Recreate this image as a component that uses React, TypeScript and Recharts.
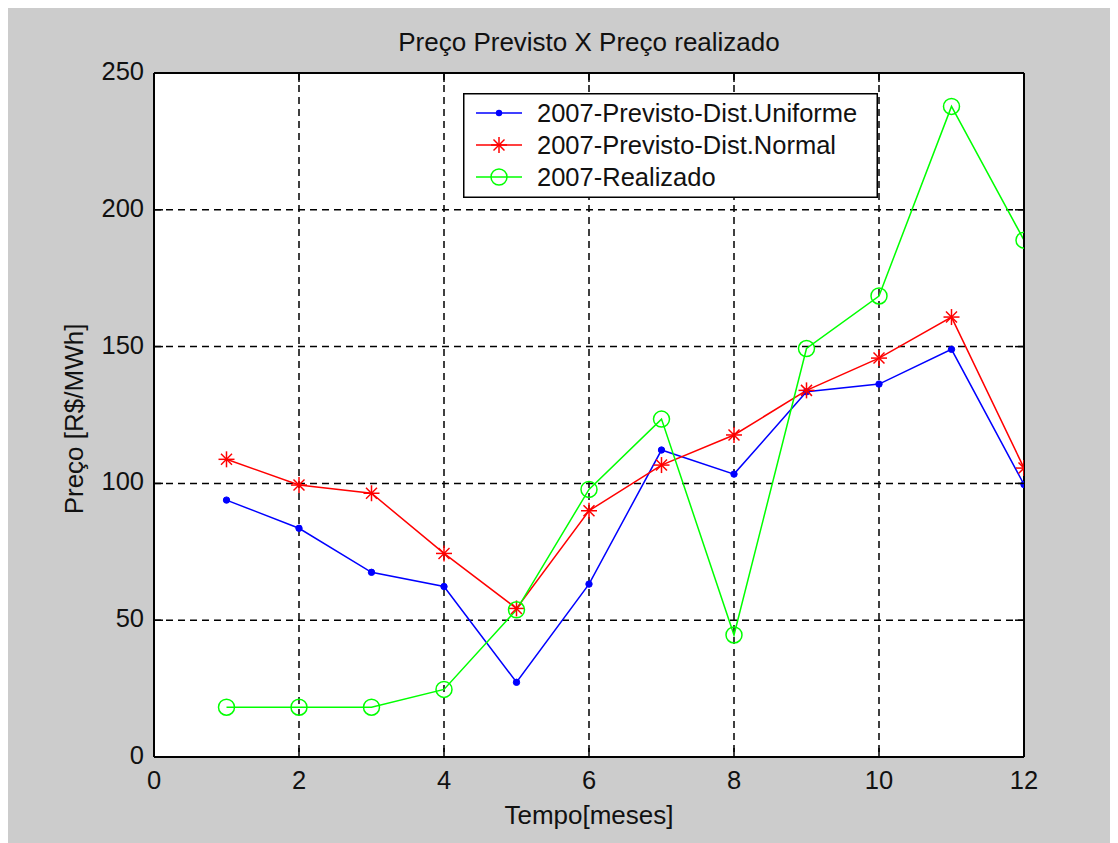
import React from 'react';
import { LineChart, Line, XAxis, YAxis, CartesianGrid, Legend } from 'recharts';

const months = [1, 2, 3, 4, 5, 6, 7, 8, 9, 10, 11, 12];
const uniforme = [93.9, 83.6, 67.5, 62.3, 27.3, 63.2, 112.2, 103.4, 133.5, 136.3, 149.0, 99.6];
const normal = [108.8, 99.4, 96.4, 74.4, 54.3, 90.0, 106.7, 117.7, 134.0, 145.8, 160.8, 105.6];
const realizado = [18.2, 18.2, 18.2, 24.7, 53.8, 97.8, 123.5, 44.6, 149.3, 168.5, 237.8, 188.9];
const xTicks = [0, 2, 4, 6, 8, 10, 12];
const yTicks = [0, 50, 100, 150, 200, 250];
const seriesNames = ['2007-Previsto-Dist.Uniforme', '2007-Previsto-Dist.Normal', '2007-Realizado'];
const titleText = 'Preço Previsto X Preço realizado';
const xLabelText = 'Tempo[meses]';
const yLabelText = 'Preço [R$/MWh]';

const data = months.map((m, i) => ({ m, u: uniforme[i], n: normal[i], r: realizado[i] }));

const FONT = '"Liberation Sans", Arial, Helvetica, sans-serif';
const FS = 26;
const FS_TICK = 25.5;
const FS_LEG = 25.5;
const TICK = 9;
const BLUE = '#0000ff';
const RED = '#ff0000';
const GREEN = '#00ff00';

const BottomTick = (p: any) => (
  <g>
    <line x1={p.x} y1={p.y} x2={p.x} y2={p.y - TICK} stroke="#000" strokeWidth={1.5} />
    <text x={p.x} y={p.y + 23} textAnchor="middle" dominantBaseline="central" fontSize={FS_TICK} fontFamily={FONT} fill="#111">
      {p.payload.value}
    </text>
  </g>
);
const TopTick = (p: any) => (
  <line x1={p.x} y1={p.y} x2={p.x} y2={p.y + TICK} stroke="#000" strokeWidth={1.5} />
);
const LeftTick = (p: any) => (
  <g>
    <line x1={p.x} y1={p.y} x2={p.x + TICK} y2={p.y} stroke="#000" strokeWidth={1.5} />
    <text x={p.x - 10} y={p.y - 2} textAnchor="end" dominantBaseline="central" fontSize={FS_TICK} fontFamily={FONT} fill="#111">
      {p.payload.value}
    </text>
  </g>
);
const RightTick = (p: any) => (
  <line x1={p.x} y1={p.y} x2={p.x - TICK} y2={p.y} stroke="#000" strokeWidth={1.5} />
);

const Dot = (p: any) => {
  if (p.cx == null || p.cy == null) return <g key={p.index} />;
  return <circle key={p.index} cx={p.cx} cy={p.cy} r={3.2} fill={BLUE} stroke={BLUE} />;
};
const starShape = (cx: number, cy: number, color: string) => (
  <g>
    <line x1={cx - 8} y1={cy} x2={cx + 8} y2={cy} stroke={color} strokeWidth={1.5} />
    <line x1={cx} y1={cy - 8} x2={cx} y2={cy + 8} stroke={color} strokeWidth={1.5} />
    <line x1={cx - 5.5} y1={cy - 5.5} x2={cx + 5.5} y2={cy + 5.5} stroke={color} strokeWidth={1.5} />
    <line x1={cx - 5.5} y1={cy + 5.5} x2={cx + 5.5} y2={cy - 5.5} stroke={color} strokeWidth={1.5} />
  </g>
);
const Star = (p: any) => {
  if (p.cx == null || p.cy == null) return <g key={p.index} />;
  return <g key={p.index}>{starShape(p.cx, p.cy, RED)}</g>;
};
const Ring = (p: any) => {
  if (p.cx == null || p.cy == null) return <g key={p.index} />;
  return <circle key={p.index} cx={p.cx} cy={p.cy} r={8} fill="none" stroke={GREEN} strokeWidth={1.5} />;
};

const LegendBox = () => {
  const rows = [20, 52, 84];
  return (
    <svg width={415} height={105} style={{ display: 'block' }}>
      <rect x={0.75} y={0.75} width={413.5} height={103.5} fill="#fff" stroke="#000" strokeWidth={1.5} />
      <line x1={13} y1={rows[0]} x2={59} y2={rows[0]} stroke={BLUE} strokeWidth={1.5} />
      <circle cx={36} cy={rows[0]} r={3.2} fill={BLUE} />
      <text x={74} y={rows[0]} dominantBaseline="central" fontSize={FS_LEG} fontFamily={FONT} fill="#111">{seriesNames[0]}</text>
      <line x1={13} y1={rows[1]} x2={59} y2={rows[1]} stroke={RED} strokeWidth={1.5} />
      {starShape(36, rows[1], RED)}
      <text x={74} y={rows[1]} dominantBaseline="central" fontSize={FS_LEG} fontFamily={FONT} fill="#111">{seriesNames[1]}</text>
      <line x1={13} y1={rows[2]} x2={59} y2={rows[2]} stroke={GREEN} strokeWidth={1.5} />
      <circle cx={36} cy={rows[2]} r={8} fill="none" stroke={GREEN} strokeWidth={1.5} />
      <text x={74} y={rows[2]} dominantBaseline="central" fontSize={FS_LEG} fontFamily={FONT} fill="#111">{seriesNames[2]}</text>
    </svg>
  );
};

const XLabel = (props: any) => {
  const vb = props.viewBox || { x: 146, y: 749, width: 870, height: 80 };
  const cx = vb.x + vb.width / 2;
  const cy = vb.y + 58;
  return (
    <text x={cx} y={cy} textAnchor="middle" dominantBaseline="central" fontSize={FS} fontFamily={FONT} fill="#111">
      {xLabelText}
    </text>
  );
};
const YLabel = (props: any) => {
  const vb = props.viewBox || { x: 66, y: 65, width: 80, height: 684 };
  const cx = vb.x + 0;
  const cy = vb.y + vb.height / 2 + 4;
  return (
    <text x={cx} y={cy} transform={`rotate(-90 ${cx} ${cy})`} textAnchor="middle" dominantBaseline="central" fontSize={FS} fontFamily={FONT} fill="#111">
      {yLabelText}
    </text>
  );
};

export default function App() {
  return (
    <div style={{ position: 'relative', width: 1110, height: 835, background: '#cccccc', fontFamily: FONT }}>
      <div
        style={{
          position: 'absolute',
          left: 0,
          width: 1162,
          top: 19,
          textAlign: 'center',
          fontSize: FS,
          lineHeight: '30px',
          color: '#111',
          fontFamily: FONT,
        }}
      >
        {titleText}
      </div>
      <div style={{ position: 'absolute', left: 0, top: 0 }}>
        <LineChart width={1110} height={835} data={data} margin={{ top: 64, right: 93, left: 66, bottom: 6 }}>
          <CartesianGrid stroke="#000" strokeDasharray="7 5" strokeWidth={1.5} fill="#ffffff" />
          <XAxis
            dataKey="m"
            type="number"
            domain={[0, 12]}
            ticks={xTicks}
            height={80}
            tickSize={0}
            tickMargin={0}
            tick={BottomTick}
            tickLine={false}
            axisLine={{ stroke: '#000', strokeWidth: 2 }}
            label={<XLabel />}
            allowDataOverflow
          />
          <XAxis
            xAxisId="top"
            orientation="top"
            dataKey="m"
            type="number"
            domain={[0, 12]}
            ticks={xTicks}
            height={1}
            tickSize={0}
            tickMargin={0}
            tick={TopTick}
            tickLine={false}
            axisLine={{ stroke: '#000', strokeWidth: 2 }}
            allowDataOverflow
          />
          <YAxis
            type="number"
            domain={[0, 250]}
            ticks={yTicks}
            width={80}
            tickSize={0}
            tickMargin={0}
            tick={LeftTick}
            tickLine={false}
            axisLine={{ stroke: '#000', strokeWidth: 2 }}
            label={<YLabel />}
            allowDataOverflow
          />
          <YAxis
            yAxisId="right"
            orientation="right"
            type="number"
            domain={[0, 250]}
            ticks={yTicks}
            width={1}
            tickSize={0}
            tickMargin={0}
            tick={RightTick}
            tickLine={false}
            axisLine={{ stroke: '#000', strokeWidth: 2 }}
            allowDataOverflow
          />
          <Legend
            layout="vertical"
            align="center"
            verticalAlign="middle"
            content={() => <LegendBox />}
            wrapperStyle={{ position: 'absolute', left: 455, top: 85, width: 415, height: 105 }}
          />
          <Line xAxisId="top" yAxisId="right" dataKey="u" stroke="none" strokeWidth={0} dot={false} activeDot={false} legendType="none" isAnimationActive={false} />
          <Line dataKey="u" name={seriesNames[0]} stroke={BLUE} strokeWidth={1.5} dot={Dot} activeDot={false} isAnimationActive={false} />
          <Line dataKey="n" name={seriesNames[1]} stroke={RED} strokeWidth={1.5} dot={Star} activeDot={false} isAnimationActive={false} />
          <Line dataKey="r" name={seriesNames[2]} stroke={GREEN} strokeWidth={1.5} dot={Ring} activeDot={false} isAnimationActive={false} />
        </LineChart>
      </div>
    </div>
  );
}
